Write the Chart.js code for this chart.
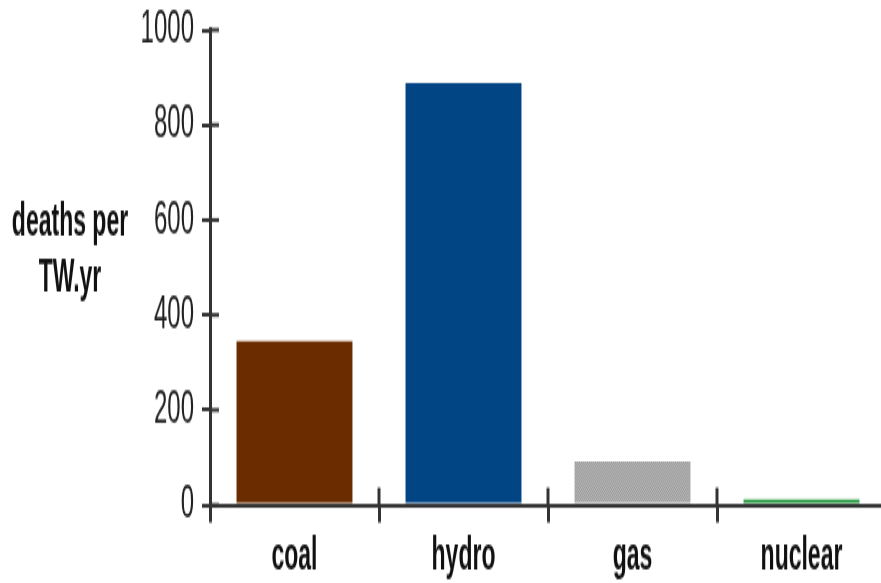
<!DOCTYPE html>
<html>
<head>
<meta charset="utf-8">
<script src="https://cdn.jsdelivr.net/npm/chart.js@4.4.1/dist/chart.umd.min.js"></script>
<style>
  html, body { margin: 0; padding: 0; background: #fff; }
  #wrap { width: 881px; height: 583px; overflow: hidden; }
</style>
</head>
<body>
<div id="wrap"><canvas id="c" width="900" height="302" style="width:900px;height:583px;display:block"></canvas></div>
<script>
// data
const categories = ['coal', 'hydro', 'gas', 'nuclear'];
const deaths = [345, 888, 92, 12];
const yTicks = [0, 200, 400, 600, 800, 1000];
const yTitle = ['deaths per', 'TW.yr'];

// canvas is drawn 302px tall and stretched to 583px, like the squashed original
Chart.defaults.font.family = '"Liberation Sans", Arial, sans-serif';

// dotted grey fill for gas
function dotPattern() {
  const p = document.createElement('canvas');
  p.width = 2; p.height = 2;
  const g = p.getContext('2d');
  g.fillStyle = '#b6b6b6'; g.fillRect(0, 0, 2, 2);
  g.fillStyle = '#9c9c9c'; g.fillRect(0, 0, 1, 1); g.fillRect(1, 1, 1, 1);
  return g.createPattern(p, 'repeat');
}

const canvas = document.getElementById('c');
const ctx = canvas.getContext('2d');
const barColors = ['#6b2d00', '#024584', dotPattern(), '#1b9435'];

// tick marks that cross the axes, and the horizontal y title
const crossTicks = {
  id: 'crossTicks',
  afterDraw(chart) {
    const { ctx, chartArea: a, scales: { x, y } } = chart;
    ctx.save();
    ctx.strokeStyle = '#333';
    ctx.lineWidth = 2;
    y.ticks.forEach((t, i) => {
      const py = y.getPixelForTick(i);
      ctx.beginPath(); ctx.moveTo(a.left, py); ctx.lineTo(a.left + 9, py); ctx.stroke();
    });
    ctx.lineWidth = 3;
    const step = x.width / categories.length;
    for (let i = 1; i <= categories.length; i++) {
      const px = x.left + i * step;
      ctx.beginPath(); ctx.moveTo(px, a.bottom); ctx.lineTo(px, a.bottom - 9); ctx.stroke();
    }
    ctx.fillStyle = '#111';
    ctx.font = 'bold 23px "Liberation Sans", Arial, sans-serif';
    ctx.textAlign = 'center';
    ctx.textBaseline = 'alphabetic';
    const p600 = y.getPixelForValue(600);
    ctx.fillText(yTitle[0], 70, p600 + 7.8);
    ctx.fillText(yTitle[1], 70, p600 + 36.8);
    ctx.restore();
  }
};

new Chart(ctx, {
  type: 'bar',
  data: {
    labels: categories,
    datasets: [{
      data: deaths,
      backgroundColor: barColors,
      borderWidth: 0,
      barPercentage: 0.686,
      categoryPercentage: 1
    }]
  },
  options: {
    responsive: false,
    devicePixelRatio: 1,
    animation: false,
    layout: { padding: { top: 15.5, right: 14, left: 0, bottom: 0 } },
    plugins: { legend: { display: false }, tooltip: { enabled: false } },
    scales: {
      x: {
        grid: { drawOnChartArea: false, tickLength: 9, color: '#333', lineWidth: 3, offset: true },
        border: { color: '#333', width: 2 },
        ticks: { color: '#111', padding: 4, font: { size: 23, weight: 'bold' } },
        afterFit(s) { s.height = 40.4; s.paddingLeft = 0; s.paddingRight = 0; }
      },
      y: {
        min: 0,
        max: 1000,
        afterBuildTicks(s) { s.ticks = yTicks.map(v => ({ value: v })); },
        grid: { drawOnChartArea: false, tickLength: 8, color: '#333', lineWidth: 2 },
        border: { color: '#333', width: 3 },
        ticks: { color: '#222', padding: 8, font: { size: 24 }, callback: v => String(v) },
        afterFit(s) { s.width = 210; s.paddingTop = 0; s.paddingBottom = 0; }
      }
    }
  },
  plugins: [crossTicks]
});
</script>
</body>
</html>
